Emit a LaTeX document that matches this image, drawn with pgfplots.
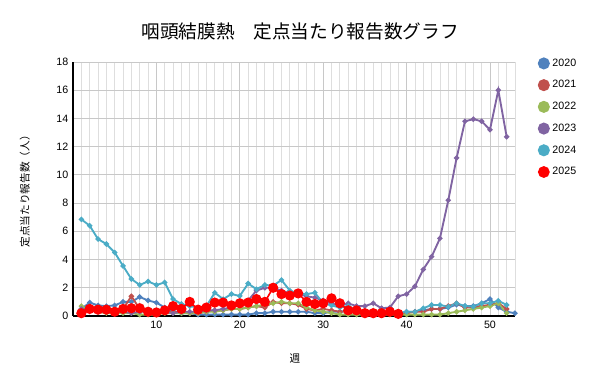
\documentclass[border=0pt]{standalone}
\usepackage{pgfplots}
\pgfplotsset{compat=1.18}
\usepackage{fontspec}
\setmainfont{Liberation Sans}
\newfontfamily\cjk{Noto Sans CJK JP}
\definecolor{c2020}{HTML}{4F81BD}
\definecolor{c2021}{HTML}{C0504D}
\definecolor{c2022}{HTML}{9BBB59}
\definecolor{c2023}{HTML}{8064A2}
\definecolor{c2024}{HTML}{4BACC6}
\definecolor{c2025}{HTML}{FF0000}
\definecolor{gmaj}{HTML}{C8C8C8}
\definecolor{gmin}{HTML}{DEDEDE}
\begin{document}
\begin{tikzpicture}
\path[use as bounding box] (0,0) rectangle (450pt,288pt);
\begin{axis}[
  at={(54.75pt,51pt)}, anchor=south west,
  scale only axis, width=331.5pt, height=190.5pt,
  xmin=0, xmax=53, ymin=0, ymax=18,
  xtick={10,20,30,40,50}, ytick={0,2,...,18},
  minor xtick={1,...,53},
  xmajorgrids, xminorgrids, ymajorgrids,
  major grid style={gmaj, line width=0.6pt},
  minor grid style={gmin, line width=0.6pt},
  axis x line*=bottom, axis y line*=left,
  axis line style={black, line width=0.8pt, -},
  major tick length=0pt, minor tick length=0pt,
  tick label style={font=\fontsize{8}{9}\selectfont},
  /pgf/number format/assume math mode=true,
  xlabel={\cjk 週}, ylabel={\cjk 定点当たり報告数（人）},
  label style={font=\fontsize{8}{9}\selectfont},
  xlabel style={at={(axis description cs:0.502,-0.166)}, anchor=center},
  ylabel style={at={(axis description cs:-0.109,0.5)}, anchor=center},
  title={\cjk 咽頭結膜熱　定点当たり報告数グラフ},
  title style={at={(axis description cs:0.514,1.088)}, anchor=center, font=\fontsize{14}{16}\selectfont},
  legend style={at={(axis description cs:1.042,1.035)}, anchor=north west, draw=none, fill=none,
    font=\fontsize{8}{9}\selectfont, row sep=5.2pt},
  legend cell align=left,
  every axis plot/.append style={line width=1.4pt, mark=*, mark size=1.2pt},
  clip=false,
]
\addplot[c2020, mark options={fill=c2020}, legend image code/.code={\fill[c2020] (0.25cm,0) circle (3.8pt);}] coordinates {
(1,0.5)(2,0.95)(3,0.75)(4,0.7)(5,0.75)(6,1.0)(7,1.0)(8,1.35)(9,1.1)(10,0.95)
(11,0.6)(12,0.35)(13,0.2)(14,0.2)(15,0.1)(16,0.1)(17,0.1)(18,0.1)(19,0.1)(20,0.1)
(21,0.1)(22,0.2)(23,0.2)(24,0.3)(25,0.3)(26,0.3)(27,0.3)(28,0.3)(29,0.2)(30,0.2)
(31,0.3)(32,0.3)(33,0.4)(34,0.3)(35,0.2)(36,0.2)(37,0.3)(38,0.2)(39,0.2)(40,0.3)
(41,0.3)(42,0.4)(43,0.5)(44,0.5)(45,0.6)(46,0.8)(47,0.7)(48,0.7)(49,0.9)(50,1.2)
(51,0.6)(52,0.3)(53,0.2)};
\addlegendentry{2020}
\addplot[c2021, mark options={fill=c2021}, legend image code/.code={\fill[c2021] (0.25cm,0) circle (3.8pt);}] coordinates {
(1,0.4)(2,0.6)(3,0.4)(4,0.4)(5,0.3)(6,0.5)(7,1.4)(8,0.5)(9,0.4)(10,0.3)
(11,0.3)(12,0.3)(13,0.3)(14,0.2)(15,0.2)(16,0.3)(17,0.4)(18,0.4)(19,0.5)(20,0.5)
(21,0.6)(22,0.7)(23,0.6)(24,1.0)(25,0.9)(26,0.9)(27,0.8)(28,0.5)(29,0.4)(30,0.5)
(31,0.4)(32,0.3)(33,0.3)(34,0.2)(35,0.2)(36,0.2)(37,0.2)(38,0.2)(39,0.2)(40,0.2)
(41,0.3)(42,0.3)(43,0.5)(44,0.5)(45,0.7)(46,0.9)(47,0.6)(48,0.6)(49,0.7)(50,0.8)
(51,0.9)(52,0.5)};
\addlegendentry{2021}
\addplot[c2022, mark options={fill=c2022}, legend image code/.code={\fill[c2022] (0.25cm,0) circle (3.8pt);}] coordinates {
(1,0.7)(2,0.4)(3,0.3)(4,0.2)(5,0.2)(6,0.2)(7,0.2)(8,0.1)(9,0.1)(10,0.1)
(11,0.2)(12,0.2)(13,0.2)(14,0.2)(15,0.2)(16,0.3)(17,0.3)(18,0.4)(19,0.5)(20,0.5)
(21,0.6)(22,0.7)(23,0.8)(24,0.9)(25,1.0)(26,0.9)(27,0.9)(28,0.6)(29,0.4)(30,0.3)
(31,0.2)(32,0.1)(33,0.1)(34,0.1)(35,0.1)(36,0.1)(37,0.1)(38,0.1)(39,0.1)(40,0.1)
(41,0.1)(42,0.1)(43,0.1)(44,0.1)(45,0.2)(46,0.3)(47,0.4)(48,0.5)(49,0.6)(50,0.7)
(51,0.9)(52,0.2)};
\addlegendentry{2022}
\addplot[c2023, mark options={fill=c2023}, legend image code/.code={\fill[c2023] (0.25cm,0) circle (3.8pt);}] coordinates {
(1,0.5)(2,0.4)(3,0.3)(4,0.3)(5,0.3)(6,0.3)(7,0.2)(8,0.3)(9,0.3)(10,0.3)
(11,0.3)(12,0.2)(13,0.3)(14,0.3)(15,0.3)(16,0.4)(17,0.4)(18,0.5)(19,0.6)(20,0.9)
(21,1.1)(22,1.8)(23,2.0)(24,2.0)(25,1.8)(26,1.6)(27,1.6)(28,1.4)(29,1.3)(30,1.1)
(31,0.9)(32,0.7)(33,0.9)(34,0.7)(35,0.7)(36,0.9)(37,0.55)(38,0.6)(39,1.4)(40,1.55)
(41,2.1)(42,3.3)(43,4.2)(44,5.5)(45,8.2)(46,11.2)(47,13.8)(48,13.95)(49,13.8)(50,13.2)
(51,16.0)(52,12.7)};
\addlegendentry{2023}
\addplot[c2024, mark options={fill=c2024}, legend image code/.code={\fill[c2024] (0.25cm,0) circle (3.8pt);}] coordinates {
(1,6.85)(2,6.4)(3,5.45)(4,5.1)(5,4.5)(6,3.55)(7,2.62)(8,2.2)(9,2.45)(10,2.2)
(11,2.38)(12,1.2)(13,0.85)(14,0.7)(15,0.6)(16,0.7)(17,1.65)(18,1.2)(19,1.55)(20,1.42)
(21,2.3)(22,1.9)(23,2.2)(24,2.15)(25,2.55)(26,1.8)(27,1.6)(28,1.55)(29,1.65)(30,0.9)
(31,0.75)(32,0.6)(33,0.7)(34,0.4)(35,0.3)(36,0.25)(37,0.25)(38,0.2)(39,0.15)(40,0.3)
(41,0.3)(42,0.55)(43,0.78)(44,0.78)(45,0.66)(46,0.9)(47,0.7)(48,0.66)(49,0.9)(50,0.9)
(51,1.08)(52,0.78)};
\addlegendentry{2024}
\addplot[c2025, line width=1.2pt, mark size=3.2pt, mark options={fill=c2025}, legend image code/.code={\fill[c2025] (0.25cm,0) circle (3.8pt);}] coordinates {
(1,0.2)(2,0.5)(3,0.45)(4,0.45)(5,0.3)(6,0.5)(7,0.55)(8,0.55)(9,0.3)(10,0.25)
(11,0.4)(12,0.7)(13,0.5)(14,1.0)(15,0.45)(16,0.6)(17,0.95)(18,0.95)(19,0.75)(20,0.9)
(21,0.95)(22,1.2)(23,1.0)(24,2.0)(25,1.55)(26,1.45)(27,1.6)(28,1.0)(29,0.85)(30,0.9)
(31,1.25)(32,0.9)(33,0.4)(34,0.4)(35,0.2)(36,0.2)(37,0.2)(38,0.3)(39,0.15)};
\addlegendentry{2025}
\end{axis}
\end{tikzpicture}
\end{document}
